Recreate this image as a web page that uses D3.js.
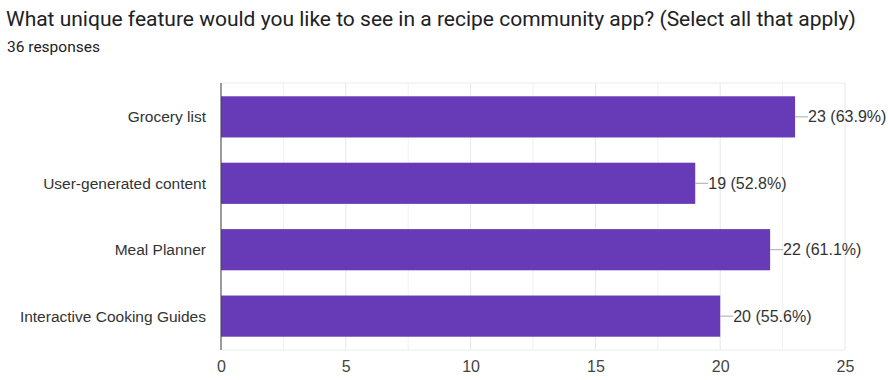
<!DOCTYPE html>
<html>
<head>
<meta charset="utf-8">
<script src="https://cdn.jsdelivr.net/npm/d3@7"></script>
<style>
  body { margin: 0; background: #fff; }
  svg { font-family: "Liberation Sans", Arial, sans-serif; }
</style>
</head>
<body>
<svg id="vis" width="888" height="380"></svg>
<script>
// chart data
const categories = ["Grocery list", "User-generated content", "Meal Planner", "Interactive Cooking Guides"];
const counts = [23, 19, 22, 20];
const percents = ["63.9%", "52.8%", "61.1%", "55.6%"];
const xTicks = [0, 5, 10, 15, 20, 25];
const minorTicks = [2.5, 7.5, 12.5, 17.5, 22.5];

const MARGINS = {top: 83, right: 43, bottom: 30, left: 221};
const width = 888, height = 380;

const svg = d3.select("#vis");

svg.append("text")
    .attr("x", 6).attr("y", 26)
    .style("font-family", "Roboto, 'Liberation Sans', sans-serif")
    .style("font-size", "21px")
    .style("fill", "#202124")
    .text("What unique feature would you like to see in a recipe community app? (Select all that apply)");

svg.append("text")
    .attr("x", 7).attr("y", 52)
    .style("font-family", "Roboto, 'Liberation Sans', sans-serif")
    .style("font-size", "15.5px")
    .style("fill", "#202124")
    .text("36 responses");

const x = d3.scaleLinear().domain([0, 25]).range([MARGINS.left, width - MARGINS.right]);
const y = d3.scaleBand().domain(categories).range([MARGINS.top, height - MARGINS.bottom]).paddingInner(0.38).paddingOuter(0.2);

// grid
svg.append("g").selectAll("line")
    .data(xTicks.concat(minorTicks))
    .join("line")
    .attr("x1", d => x(d)).attr("x2", d => x(d))
    .attr("y1", MARGINS.top).attr("y2", height - MARGINS.bottom)
    .attr("stroke", d => xTicks.includes(d) ? "#e6e6e6" : "#f1f1f1");

svg.append("line")
    .attr("x1", x(0)).attr("x2", x(25))
    .attr("y1", MARGINS.top).attr("y2", MARGINS.top)
    .attr("stroke", "#ececec");
svg.append("line")
    .attr("x1", x(0)).attr("x2", x(25))
    .attr("y1", height - MARGINS.bottom).attr("y2", height - MARGINS.bottom)
    .attr("stroke", "#ececec");

// bars
svg.append("g").selectAll("rect")
    .data(categories)
    .join("rect")
    .attr("x", x(0))
    .attr("y", d => y(d))
    .attr("width", (d, i) => x(counts[i]) - x(0))
    .attr("height", y.bandwidth())
    .attr("fill", "#673ab7");

// connector lines + value labels
svg.append("g").selectAll("line")
    .data(categories)
    .join("line")
    .attr("x1", (d, i) => x(counts[i]))
    .attr("x2", (d, i) => x(counts[i]) + 13)
    .attr("y1", d => y(d) + y.bandwidth() / 2)
    .attr("y2", d => y(d) + y.bandwidth() / 2)
    .attr("stroke", "#aaaaaa");

svg.append("g").selectAll("text")
    .data(categories)
    .join("text")
    .attr("x", (d, i) => x(counts[i]) + 13)
    .attr("y", d => y(d) + y.bandwidth() / 2)
    .attr("dy", "0.35em")
    .style("font-size", "16px")
    .style("fill", "#333")
    .text((d, i) => `${counts[i]} (${percents[i]})`);

// category labels
svg.append("g").selectAll("text")
    .data(categories)
    .join("text")
    .attr("x", MARGINS.left - 15)
    .attr("y", d => y(d) + y.bandwidth() / 2)
    .attr("dy", "0.35em")
    .attr("text-anchor", "end")
    .style("font-size", "15.5px")
    .style("fill", "#333")
    .text(d => d);

// baseline
svg.append("line")
    .attr("x1", x(0)).attr("x2", x(0))
    .attr("y1", MARGINS.top).attr("y2", height - MARGINS.bottom)
    .attr("stroke", "#444");

// x axis
const xAxis = d3.axisBottom(x).tickValues(xTicks).tickSize(0).tickPadding(11);
const gx = svg.append("g")
    .attr("transform", `translate(0, ${height - MARGINS.bottom})`)
    .call(xAxis);
gx.select(".domain").remove();
gx.selectAll("text")
    .style("font-family", "'Liberation Sans', Arial, sans-serif")
    .style("font-size", "16px")
    .style("fill", "#444");
</script>
</body>
</html>
